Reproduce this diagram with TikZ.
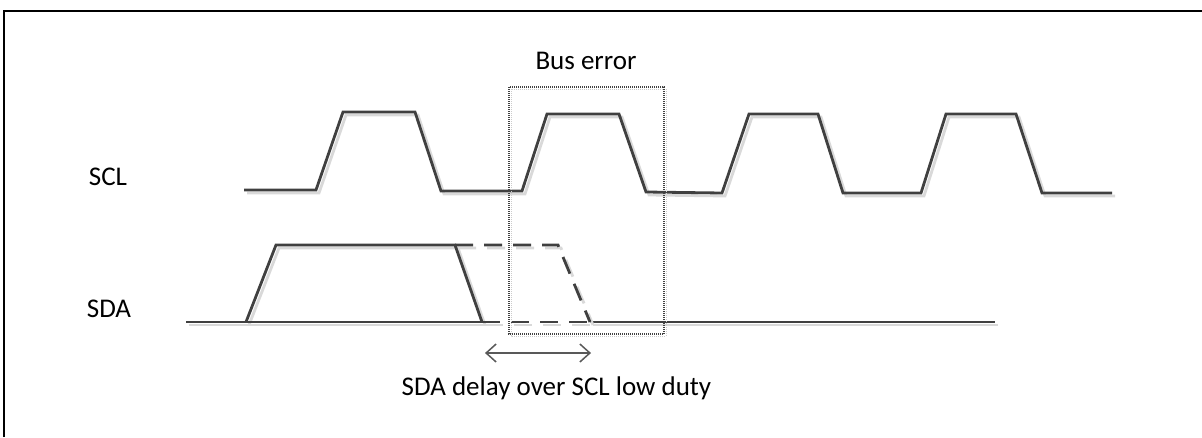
\documentclass[tikz,border=0pt]{standalone}
\usepackage{fontspec}
\setmainfont{Carlito}
\usetikzlibrary{arrows.meta}
\begin{document}
\begin{tikzpicture}[x=1pt,y=-1pt,
  wave/.style={line width=2.8pt,draw=black!75,line join=miter},
  waveshadow/.style={line width=2.8pt,draw=black!15,shift={(3,3)}},
  dashwave/.style={wave,dash pattern=on 18pt off 11pt},
  dashshadow/.style={waveshadow,dash pattern=on 18pt off 11pt},
  busbox/.style={draw=black!75,line width=1.1pt,dash pattern=on 1pt off 1pt},
  busboxshadow/.style={draw=black!20,line width=1pt,dash pattern=on 1pt off 1pt,shift={(2,2)}},
  lbl/.style={font=\fontsize{27}{31}\selectfont,anchor=base,inner sep=0pt},
  dimarrow/.style={line width=1.5pt,draw=black!65,{Straight Barb[length=10pt,width=18pt]}-{Straight Barb[length=10pt,width=18pt]}},
  dimshadow/.style={line width=1.5pt,draw=black!15,shift={(2,3)}}
]
\useasboundingbox (0,0) rectangle (1202,437);
% frame
\draw[line width=2pt] (4,437) -- (4,11) -- (1202,11);

% SCL shadow + wave
\foreach \s in {waveshadow,wave}{
\draw[\s] (244,190) -- (316,190) -- (343,112) -- (415,112) -- (441,191)
  -- (522,191) -- (547,114) -- (619,114) -- (646,192)
  -- (722,193) -- (749,114) -- (818,114) -- (843,193)
  -- (921,193) -- (946,114) -- (1016,114) -- (1042,193) -- (1112,193);
% SDA solid
\draw[\s] (186,322) -- (482,322);
\draw[\s] (246,322) -- (276,245) -- (455,245) -- (482,322);
\draw[\s] (590,322) -- (995,322);
}
% SDA dashed
\foreach \s in {dashshadow,dashwave}{
\draw[\s] (455,245) -- (558,245) -- (590,322);
\draw[\s] (482,322) -- (590,322);
}

% bus error box
\draw[busboxshadow] (509,87) rectangle (664,334);
\draw[busbox] (509,87) rectangle (664,334);

% delay arrow
\coordinate (dl) at (485,353);
\coordinate (dr) at (591,353);
\draw[dimshadow] (dl) -- (dr);
\draw[dimarrow] (dl) -- (dr);

% labels
\node[lbl] (scl) at (108,185) {SCL};
\node[lbl] (sda) at (109,317) {SDA};
\node[lbl] (buserr) at (586,69) {Bus error};
\node[lbl] (delay) at (556.5,395.5) {SDA delay over SCL low duty};
\end{tikzpicture}
\end{document}
